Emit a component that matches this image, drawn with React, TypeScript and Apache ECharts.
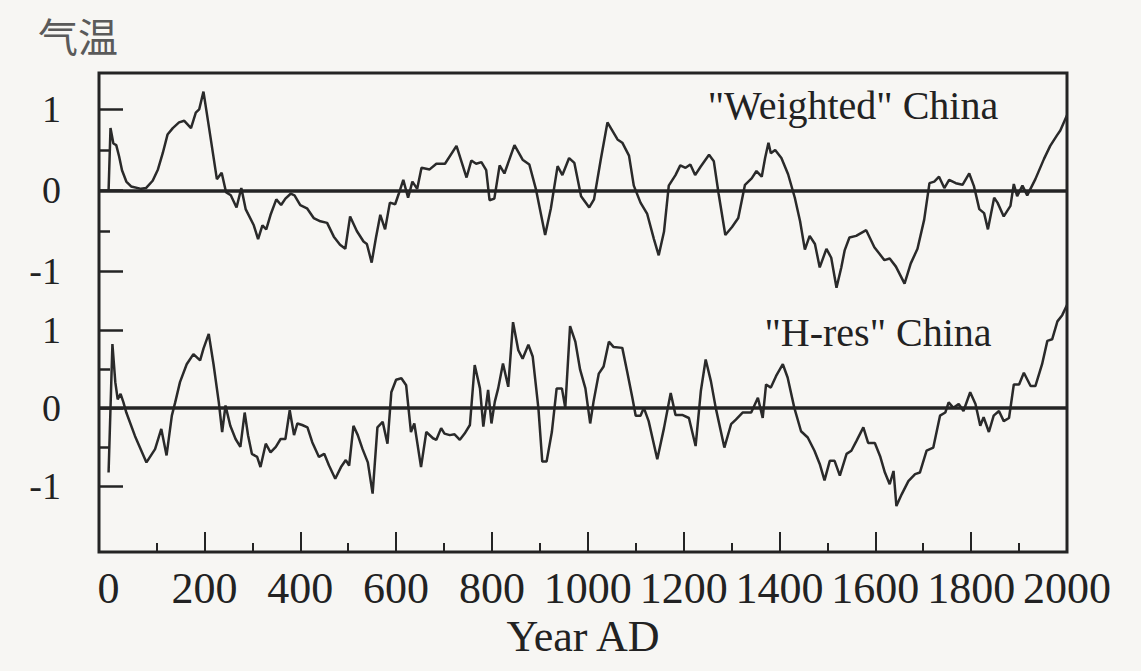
import React, { useEffect, useRef } from "react";
import * as echarts from "echarts";

// ---- data ----
const weightedYears = [0,4,10,16,22,28,37,47,68,78,92,103,113,123,134,147,158,172,182,189,198,210,226,236,245,255,267,277,286,303,312,321,329,338,350,360,369,380,388,400,414,428,442,456,470,483,494,504,518,532,539,549,558,567,577,587,598,605,615,625,634,644,653,670,684,702,726,747,757,767,778,788,795,805,816,826,847,864,878,892,911,923,937,947,961,972,986,1003,1013,1027,1041,1062,1072,1086,1096,1110,1124,1138,1148,1159,1169,1183,1193,1204,1214,1224,1235,1253,1263,1273,1287,1301,1314,1328,1342,1352,1363,1370,1377,1382,1391,1404,1418,1432,1443,1453,1463,1474,1484,1498,1508,1519,1529,1536,1546,1560,1581,1598,1619,1630,1643,1661,1674,1688,1702,1713,1723,1733,1744,1754,1768,1782,1796,1806,1817,1827,1835,1848,1855,1868,1882,1889,1896,1907,1917,1934,1952,1965,1979,1986,2000];
const weightedTemp = [0.00,0.77,0.58,0.56,0.42,0.25,0.11,0.05,0.02,0.03,0.12,0.26,0.46,0.69,0.77,0.84,0.86,0.77,0.96,1.00,1.22,0.76,0.14,0.22,-0.02,-0.06,-0.21,0.03,-0.23,-0.43,-0.60,-0.43,-0.48,-0.30,-0.11,-0.18,-0.10,-0.04,-0.06,-0.18,-0.22,-0.34,-0.38,-0.40,-0.57,-0.67,-0.72,-0.32,-0.50,-0.63,-0.66,-0.89,-0.58,-0.30,-0.48,-0.15,-0.17,-0.05,0.13,-0.09,0.11,0.02,0.28,0.26,0.33,0.33,0.55,0.16,0.37,0.33,0.35,0.25,-0.12,-0.10,0.31,0.21,0.56,0.38,0.32,0.01,-0.55,-0.22,0.30,0.19,0.40,0.34,-0.07,-0.21,-0.11,0.38,0.84,0.63,0.59,0.43,0.06,-0.15,-0.29,-0.60,-0.80,-0.51,0.06,0.19,0.31,0.28,0.32,0.19,0.29,0.44,0.36,-0.04,-0.55,-0.45,-0.34,0.07,0.15,0.24,0.17,0.40,0.59,0.46,0.50,0.40,0.20,-0.09,-0.38,-0.73,-0.56,-0.66,-0.95,-0.72,-0.83,-1.20,-0.95,-0.74,-0.58,-0.56,-0.49,-0.70,-0.86,-0.84,-0.94,-1.15,-0.90,-0.72,-0.36,0.09,0.11,0.17,0.03,0.13,0.09,0.07,0.21,0.05,-0.23,-0.28,-0.48,-0.09,-0.15,-0.32,-0.19,0.08,-0.07,0.06,-0.06,0.14,0.39,0.55,0.68,0.74,0.93];

const hresYears = [0,8,14,19,25,31,37,55,79,97,110,121,132,139,149,163,177,191,198,209,219,230,237,244,254,265,275,284,291,299,310,317,328,338,349,359,369,378,387,394,404,415,425,439,450,460,473,485,495,502,511,520,530,541,551,561,572,582,590,600,611,621,631,638,652,663,677,684,694,701,712,722,733,743,754,764,775,782,792,799,806,813,823,834,844,855,864,876,885,897,905,914,925,935,946,953,963,974,984,995,1005,1012,1023,1033,1044,1054,1072,1082,1093,1100,1110,1117,1127,1145,1159,1173,1183,1197,1211,1225,1236,1246,1257,1267,1285,1299,1309,1323,1341,1355,1365,1372,1382,1393,1407,1417,1431,1445,1459,1473,1484,1494,1505,1515,1526,1540,1550,1561,1575,1585,1599,1610,1620,1630,1638,1644,1655,1669,1683,1693,1707,1721,1735,1746,1753,1763,1774,1784,1798,1809,1819,1826,1837,1847,1858,1868,1879,1889,1900,1910,1924,1934,1948,1959,1969,1980,1990,2000];
const hresTemp = [-0.83,0.82,0.33,0.11,0.18,0.07,-0.06,-0.36,-0.70,-0.53,-0.27,-0.61,-0.10,0.07,0.33,0.56,0.69,0.61,0.76,0.95,0.56,0.07,-0.31,0.03,-0.23,-0.40,-0.50,-0.06,-0.35,-0.59,-0.63,-0.76,-0.46,-0.57,-0.50,-0.40,-0.40,-0.03,-0.35,-0.20,-0.22,-0.25,-0.44,-0.63,-0.59,-0.74,-0.91,-0.76,-0.67,-0.74,-0.23,-0.35,-0.53,-0.70,-1.10,-0.25,-0.18,-0.46,0.20,0.36,0.38,0.29,-0.31,-0.20,-0.76,-0.31,-0.39,-0.41,-0.26,-0.33,-0.35,-0.34,-0.41,-0.33,-0.22,0.55,0.25,-0.24,0.23,-0.20,0.08,0.25,0.57,0.27,1.10,0.74,0.63,0.81,0.66,-0.01,-0.69,-0.69,-0.31,0.25,0.25,0.00,1.05,0.85,0.49,0.25,-0.20,0.08,0.44,0.53,0.85,0.78,0.77,0.47,0.13,-0.10,-0.10,0.00,-0.17,-0.66,-0.26,0.19,-0.09,-0.09,-0.13,-0.49,0.22,0.62,0.34,0.00,-0.51,-0.21,-0.15,-0.06,-0.06,0.13,-0.13,0.30,0.26,0.41,0.56,0.39,0.00,-0.30,-0.38,-0.55,-0.72,-0.93,-0.68,-0.68,-0.87,-0.59,-0.55,-0.42,-0.25,-0.45,-0.45,-0.62,-0.83,-0.98,-0.81,-1.26,-1.11,-0.94,-0.85,-0.83,-0.55,-0.51,-0.10,-0.06,0.07,0.00,0.05,-0.04,0.20,0.05,-0.23,-0.12,-0.31,-0.10,-0.04,-0.17,-0.13,0.30,0.30,0.45,0.28,0.28,0.56,0.86,0.88,1.11,1.19,1.32];

const xLabelValues = [0, 200, 400, 600, 800, 1000, 1200, 1400, 1600, 1800, 2000];
const xMajorTicks = [200, 400, 600, 800, 1000, 1200, 1400, 1600, 1800, 2000];
const xMinorTicks = [100, 300, 500, 700, 900, 1100, 1300, 1500, 1700, 1900];
const yMajorTicks = [-1, 0, 1];
const yMinorTicks = [-0.5, 0.5];

const TITLE = "气温";
const X_NAME = "Year AD";
const WEIGHTED_NAME = '"Weighted" China';
const HRES_NAME = '"H-res" China';

const INK = "#242424";
const SERIF = '"Liberation Serif", "Times New Roman", serif';

export default function App() {
  const ref = useRef<HTMLDivElement>(null);

  useEffect(() => {
    if (!ref.current) return;
    const chart = echarts.init(ref.current, undefined, { renderer: "svg" });

    const gridPos = { left: 99, right: 74 };
    const X_MIN = -20;
    const X_MAX = 2000;

    const hiddenX = (gridIndex: number) => ({
      type: "value",
      gridIndex,
      min: X_MIN,
      max: X_MAX,
      position: "bottom",
      show: false,
      axisLine: { show: false, onZero: false },
      splitLine: { show: false },
    });

    const majorY = (gridIndex: number, min: number, max: number) => ({
      type: "value",
      gridIndex,
      min,
      max,
      position: "left",
      axisLine: { show: false, onZero: false },
      splitLine: { show: false },
      axisTick: {
        show: true,
        inside: true,
        length: 24,
        customValues: yMajorTicks,
        lineStyle: { color: INK, width: 2.5 },
      },
      axisLabel: {
        show: true,
        customValues: yMajorTicks,
        margin: 38,
        fontSize: 38,
        fontFamily: SERIF,
        color: "#222",
        formatter: (v: number) => String(v),
      },
    });

    const minorY = (gridIndex: number, min: number, max: number) => ({
      type: "value",
      gridIndex,
      min,
      max,
      position: "left",
      axisLine: { show: false, onZero: false },
      splitLine: { show: false },
      axisTick: {
        show: true,
        inside: true,
        length: 11,
        customValues: yMinorTicks,
        lineStyle: { color: INK, width: 2.5 },
      },
      axisLabel: { show: false },
    });

    const zeroLine = {
      silent: true,
      symbol: "none",
      label: { show: false },
      lineStyle: { color: INK, width: 3.5, type: "solid" },
      data: [{ yAxis: 0 }],
    };

    const option: any = {
      animation: false,
      backgroundColor: "#f7f6f3",
      grid: [
        { ...gridPos, top: 73, bottom: 119, show: true, borderColor: INK, borderWidth: 3, backgroundColor: "transparent" },
        { ...gridPos, top: 73, height: 239 },
        { ...gridPos, top: 291, height: 261 },
      ],
      xAxis: [
        {
          type: "value",
          gridIndex: 0,
          min: X_MIN,
          max: X_MAX,
          position: "bottom",
          axisLine: { show: false, onZero: false },
          splitLine: { show: false },
          axisTick: {
            show: true,
            inside: true,
            length: 20,
            customValues: xMajorTicks,
            lineStyle: { color: INK, width: 2 },
          },
          axisLabel: {
            show: true,
            customValues: xLabelValues,
            margin: 14,
            fontSize: 44,
            fontFamily: SERIF,
            color: "#222",
            formatter: (v: number) => String(v),
          },
          name: X_NAME,
          nameLocation: "middle",
          nameGap: 60,
          nameTextStyle: { fontSize: 44, fontFamily: SERIF, color: "#222" },
        },
        {
          type: "value",
          gridIndex: 0,
          min: X_MIN,
          max: X_MAX,
          position: "bottom",
          axisLine: { show: false, onZero: false },
          splitLine: { show: false },
          axisTick: {
            show: true,
            inside: true,
            length: 9,
            customValues: xMinorTicks,
            lineStyle: { color: INK, width: 2 },
          },
          axisLabel: { show: false },
        },
        hiddenX(1),
        hiddenX(2),
      ],
      yAxis: [
        {
          type: "value",
          gridIndex: 0,
          min: 0,
          max: 1,
          position: "left",
          show: false,
          axisLine: { show: false, onZero: false },
          splitLine: { show: false },
        },
        majorY(1, -1.5, 1.45),
        minorY(1, -1.5, 1.45),
        majorY(2, -1.85, 1.5),
        minorY(2, -1.85, 1.5),
      ],
      series: [
        {
          name: WEIGHTED_NAME,
          type: "line",
          xAxisIndex: 2,
          yAxisIndex: 1,
          data: weightedYears.map((y, i) => [y, weightedTemp[i]]),
          showSymbol: false,
          symbol: "none",
          lineStyle: { color: "#2a2a2a", width: 2.5 },
          markLine: zeroLine,
          z: 3,
        },
        {
          name: HRES_NAME,
          type: "line",
          xAxisIndex: 3,
          yAxisIndex: 3,
          data: hresYears.map((y, i) => [y, hresTemp[i]]),
          showSymbol: false,
          symbol: "none",
          lineStyle: { color: "#2a2a2a", width: 2.5 },
          markLine: zeroLine,
          z: 3,
        },
      ],
      graphic: [
        {
          type: "text",
          x: 38,
          y: 35,
          style: {
            text: TITLE,
            fontSize: 40,
            fontFamily: '"Noto Sans CJK SC", sans-serif',
            fill: "#5a5a5a",
            align: "left",
            verticalAlign: "middle",
          },
        },
        {
          type: "text",
          x: 853,
          y: 105,
          style: {
            text: WEIGHTED_NAME,
            fontSize: 40,
            fontFamily: SERIF,
            fill: "#222",
            align: "center",
            verticalAlign: "middle",
          },
        },
        {
          type: "text",
          x: 878,
          y: 332,
          style: {
            text: HRES_NAME,
            fontSize: 40,
            fontFamily: SERIF,
            fill: "#222",
            align: "center",
            verticalAlign: "middle",
          },
        },
      ],
    };

    chart.setOption(option);
    return () => chart.dispose();
  }, []);

  return (
    <div
      ref={ref}
      style={{ position: "fixed", left: 0, top: 0, width: 1141, height: 671, background: "#f7f6f3" }}
    />
  );
}
